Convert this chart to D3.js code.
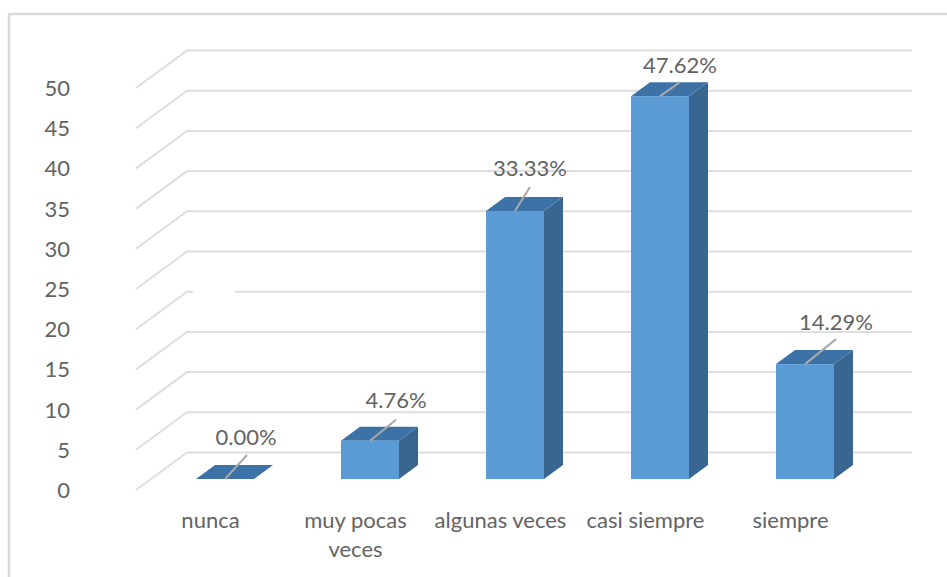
<!DOCTYPE html>
<html><head><meta charset="utf-8">
<script src="https://cdn.jsdelivr.net/npm/d3@7/dist/d3.min.js"></script>
<style>html,body{margin:0;background:#fff}svg{display:block}text{font-family:"Lato",sans-serif;fill:#636363}</style>
</head><body><svg id="c" width="947" height="577"></svg>
<script>
const categories = ["nunca", "muy pocas veces", "algunas veces", "casi siempre", "siempre"];
const values = [0, 4.76, 33.33, 47.62, 14.29];
const valueLabels = ["0.00%", "4.76%", "33.33%", "47.62%", "14.29%"];
const yTicks = [0, 5, 10, 15, 20, 25, 30, 35, 40, 45, 50];
// leader-line layout for each data label (horizontal reach, vertical reach, label baseline above bar top)
const leaderDX = [22, 26, 15, 20, 31];
const leaderDY = [24, 21, 24, 14, 25];
const labelLift = [34, 33, 35, 23, 34];

const svg = d3.select("#c");
svg.append("path").attr("d", "M947,14H9V577").attr("fill", "none").attr("stroke", "#d9d9d9").attr("stroke-width", 2.5);

const yFront = d3.scaleLinear().domain([0, 50]).range([490, 88]);
const wallDX = 51, wallDY = -37.5;
const rightX = 912;
const barDX = 19, barDY = -14;
const barBase = 479;
const x = d3.scaleBand().domain(categories).range([152.5, 877.5]).paddingInner(0.6).paddingOuter(0.3);
const yBar = v => barBase - (yFront(0) - yFront(v));
const fontSize = 22;

// gridlines
svg.append("g").selectAll("path").data(yTicks).join("path")
  .attr("d", t => `M136,${yFront(t)}L${136 + wallDX},${yFront(t) + wallDY}H${rightX}`)
  .attr("fill", "none").attr("stroke", "#dedede").attr("stroke-width", 2);
// faded stretch of the 20 gridline
svg.append("rect").attr("x", 193).attr("y", yFront(20) + wallDY - 3).attr("width", 42).attr("height", 6).attr("fill", "#fff");

// y tick labels
svg.append("g").selectAll("text").data(yTicks).join("text")
  .attr("x", 70).attr("y", t => yFront(t) + 8).attr("text-anchor", "end")
  .attr("font-size", fontSize).text(t => t);

// bars
const bars = svg.append("g").selectAll("g").data(categories).join("g");
bars.each(function (c, i) {
  const g = d3.select(this), x0 = x(c), w = x.bandwidth(), top = yBar(values[i]);
  g.append("path").attr("d", `M${x0 + w},${barBase}L${x0 + w + barDX},${barBase + barDY}V${top + barDY}L${x0 + w},${top}Z`).attr("fill", "#386690");
  g.append("path").attr("d", `M${x0},${top}L${x0 + barDX},${top + barDY}H${x0 + w + barDX}L${x0 + w},${top}Z`).attr("fill", "#3d72a6");
  g.append("rect").attr("x", x0).attr("y", top).attr("width", w).attr("height", barBase - top).attr("fill", "#5b9bd5");
  const cx = x0 + w / 2;
  g.append("line").attr("x1", cx).attr("y1", top).attr("x2", cx + leaderDX[i]).attr("y2", top - leaderDY[i])
    .attr("stroke", "#a9a9a9").attr("stroke-width", 2);
  g.append("text").attr("x", cx + leaderDX[i] - (i === 0 ? 1 : 0)).attr("y", top - labelLift[i]).attr("text-anchor", "middle")
    .attr("font-size", fontSize).text(valueLabels[i]);
});

// category labels
const catLines = c => c === "muy pocas veces" ? ["muy pocas", "veces"] : [c];
svg.append("g").selectAll("text").data(categories).join("text")
  .attr("text-anchor", "middle").attr("font-size", fontSize)
  .each(function (c) {
    const t = d3.select(this);
    catLines(c).forEach((l, i) => t.append("tspan").attr("x", x(c) + x.bandwidth() / 2 - 14.5).attr("y", 528 + i * 29).text(l));
  });
</script></body></html>
